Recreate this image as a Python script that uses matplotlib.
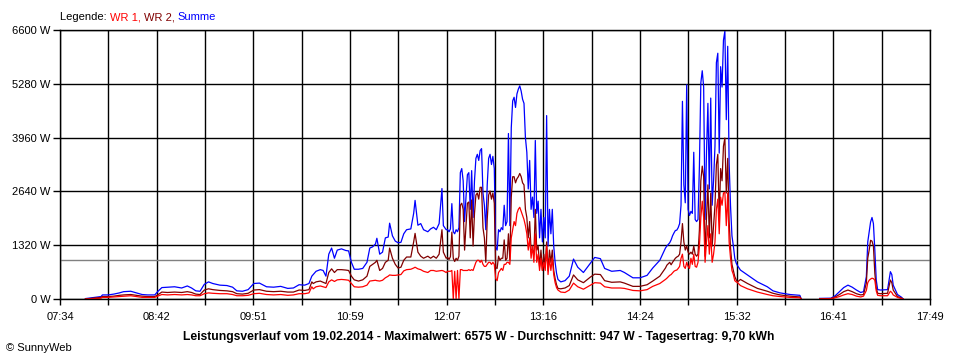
import numpy as np
import matplotlib
matplotlib.use("Agg")
import matplotlib.pyplot as plt

plt.rcParams["font.family"] = ["Liberation Sans", "DejaVu Sans"]

# ---------------------------------------------------
# DATA (W per minute sample)
# ---------------------------------------------------

times = [
    "07:52", "08:03", "08:04", "08:08", "08:12", "08:16", "08:19", "08:24", "08:28", "08:32",
    "08:36", "08:41", "08:43", "08:46", "08:50", "08:55", "09:00", "09:04", "09:07", "09:10",
    "09:13", "09:16", "09:19", "09:22", "09:27", "09:32", "09:36", "09:39", "09:43", "09:47",
    "09:51", "09:55", "10:00", "10:05", "10:10", "10:15", "10:19", "10:23", "10:27", "10:30",
    "10:32", "10:33", "10:35", "10:38", "10:40", "10:42", "10:44", "10:46", "10:48", "10:50",
    "10:53", "10:56", "10:58", "11:00", "11:02", "11:05", "11:08", "11:11", "11:13", "11:15",
    "11:17", "11:18", "11:20", "11:22", "11:24", "11:26", "11:27", "11:29", "11:31", "11:33",
    "11:35", "11:37", "11:39", "11:42", "11:44", "11:45", "11:47", "11:49", "11:51", "11:54",
    "11:56", "11:58", "12:00", "12:02", "12:04", "12:05", "12:07",
    "12:08", "12:09", "12:10", "12:11", "12:12", "12:13", "12:14", "12:15", "12:16", "12:17",
    "12:18", "12:19", "12:20", "12:21", "12:22", "12:23", "12:24", "12:25", "12:26", "12:27",
    "12:28", "12:29", "12:30", "12:31", "12:32", "12:33", "12:34", "12:35", "12:36", "12:37",
    "12:38", "12:39", "12:40", "12:41", "12:42", "12:43", "12:44", "12:45", "12:46", "12:47",
    "12:48", "12:49", "12:50", "12:51", "12:52", "12:53", "12:54", "12:55", "12:56", "12:57",
    "12:58", "12:59", "13:00", "13:01", "13:02", "13:03", "13:04", "13:05", "13:06", "13:07",
    "13:08", "13:09", "13:10", "13:11", "13:12", "13:13", "13:14", "13:15", "13:16", "13:17",
    "13:18", "13:19", "13:20", "13:21", "13:22", "13:23", "13:24", "13:25", "13:26", "13:28",
    "13:31", "13:34", "13:37", "13:40", "13:44", "13:49", "13:52", "13:56", "13:59", "14:04",
    "14:10", "14:13", "14:19", "14:24", "14:29", "14:33", "14:38", "14:42", "14:43",
    "14:45", "14:46", "14:47", "14:48", "14:49", "14:50", "14:51", "14:52", "14:53", "14:54",
    "14:55", "14:56", "14:57", "14:58", "14:59", "15:00", "15:01", "15:02", "15:03", "15:04",
    "15:05", "15:06", "15:07", "15:08", "15:09", "15:10", "15:11", "15:12", "15:13", "15:14",
    "15:15", "15:16", "15:17", "15:18", "15:19", "15:20", "15:21", "15:22", "15:23", "15:24",
    "15:25", "15:26", "15:27", "15:28", "15:29", "15:30", "15:31", "15:32", "15:33",
    "15:35", "15:40", "15:47", "15:54", "15:58", "16:03", "16:10", "16:17", "16:18", "16:19",
    "16:31", "16:39", "16:42", "16:45", "16:48", "16:51", "16:54", "16:57", "17:00", "17:02",
    "17:04", "17:05", "17:06", "17:07", "17:08", "17:09", "17:10", "17:11", "17:12", "17:14",
    "17:19", "17:21", "17:22", "17:23", "17:26", "17:29", "17:30",
]

summe = [
    10, 60, 100, 100, 120, 150, 180, 190, 150, 110,
    100, 100, 180, 280, 290, 300, 270, 320, 270, 200,
    190, 360, 420, 380, 340, 330, 290, 200, 190, 230,
    380, 390, 300, 290, 310, 260, 270, 350, 340, 380,
    560, 600, 680, 720, 700, 560, 1100, 1250, 1000, 1200,
    1230, 1190, 1180, 900, 730, 730, 750, 900, 1250, 1280,
    1350, 1490, 1100, 1150, 1500, 1520, 1860, 1550, 1420, 1380,
    1390, 1600, 1700, 1720, 2100, 2420, 1810, 1850, 1700, 1650,
    1720, 1760, 1700, 1850, 2710, 1800, 1700,
    1700, 1650, 1720, 2340, 1650, 1600, 1700, 1650, 1750, 3100,
    3200, 2900, 1900, 2500, 3050, 3100, 2200, 3150, 2000, 2900,
    3450, 3550, 3400, 3640, 3690, 2600, 2300, 1700, 2800, 3450,
    3550, 3300, 3500, 3200, 1270, 1200, 1700, 1650, 1750, 1700,
    2300, 1800, 1900, 4060, 1800, 4200, 4860, 4950, 4700, 5030,
    5150, 5230, 5100, 4900, 4800, 3960, 3600, 2700, 3400, 2200,
    2500, 2000, 3890, 2100, 2400, 1500, 2200, 1400, 2000, 1500,
    4500, 1300, 2200, 1600, 2200, 1300, 900, 630, 480, 420,
    450, 560, 980, 780, 650, 880, 1020, 990, 750, 680,
    700, 650, 520, 520, 580, 760, 950, 1250, 1300,
    1380, 1450, 1550, 1620, 1680, 1690, 1750, 1850, 2300, 4850,
    2800, 2360, 5255, 2200, 2050, 2150, 2100, 3600, 1950, 1900,
    1950, 3260, 5300, 5600, 5200, 1950, 3600, 4800, 2700, 4930,
    2300, 2900, 3750, 5800, 6030, 3580, 5700, 5200, 6350, 6575,
    4400, 6200, 3340, 2280, 1550, 1300, 1000, 880, 815,
    710, 590, 420, 300, 200, 150, 110, 90, 0, np.nan,
    15, 20, 80, 180, 280, 340, 290, 220, 160, 180,
    550, 1400, 1650, 1890, 2000, 1850, 1200, 465, 230, 220,
    230, 670, 600, 340, 110, 40, 0,
]

wr1 = [
    0, 20, 40, 40, 50, 60, 70, 80, 60, 40,
    40, 40, 70, 110, 100, 110, 100, 110, 100, 80,
    80, 130, 150, 140, 130, 130, 110, 80, 80, 90,
    130, 140, 110, 100, 110, 90, 100, 130, 130, 150,
    300, 250, 300, 320, 300, 280, 420, 470, 430, 470,
    480, 470, 460, 380, 300, 290, 300, 340, 440, 450,
    460, 450, 440, 460, 520, 560, 590, 580, 580, 590,
    600, 690, 720, 730, 760, 780, 740, 720, 680, 650,
    700, 700, 680, 690, 700, 690, 650,
    680, 680, 680, 700, 0, 680, 0, 700, 0, 720,
    720, 700, 700, 700, 700, 720, 700, 720, 700, 800,
    900, 950, 950, 900, 950, 850, 800, 800, 850, 900,
    900, 850, 900, 850, 500, 450, 650, 700, 750, 700,
    850, 850, 900, 900, 850, 1500, 1700, 1900, 1800, 2100,
    2200, 2250, 2150, 2050, 1950, 1800, 1600, 1200, 1500, 1000,
    1300, 900, 1600, 900, 1100, 700, 1000, 700, 900, 700,
    1300, 600, 1000, 700, 1000, 600, 400, 280, 220, 170,
    160, 220, 390, 300, 240, 340, 400, 390, 300, 270,
    270, 260, 210, 200, 230, 310, 380, 480, 510,
    580, 600, 640, 680, 700, 710, 750, 800, 1000, 1100,
    800, 750, 900, 800, 750, 1000, 850, 1100, 800, 780,
    900, 1300, 2000, 2400, 2000, 900, 1400, 1800, 1100, 1600,
    900, 1100, 1400, 2200, 2450, 1600, 2500, 2300, 2600, 2620,
    1800, 2600, 1400, 1000, 700, 600, 450, 420, 400,
    330, 250, 170, 110, 80, 60, 40, 30, 0, np.nan,
    5, 10, 30, 60, 100, 130, 110, 70, 50, 70,
    210, 400, 460, 490, 510, 500, 460, 200, 90, 80,
    80, 190, 160, 100, 40, 10, 0,
]

wr2 = [
    0, 40, 60, 60, 70, 90, 100, 110, 90, 70,
    60, 60, 100, 170, 160, 170, 160, 180, 160, 120,
    110, 220, 250, 230, 210, 200, 180, 130, 120, 140,
    220, 230, 190, 180, 190, 170, 170, 220, 210, 230,
    420, 380, 420, 440, 410, 380, 650, 740, 650, 720,
    720, 710, 700, 560, 470, 440, 470, 560, 800, 850,
    900, 950, 700, 750, 900, 950, 1250, 1000, 850, 760,
    780, 950, 1030, 1030, 1400, 1610, 1150, 1050, 1000, 1050,
    1000, 1050, 1000, 1100, 1700, 1150, 1000,
    1020, 970, 1040, 1640, 1000, 920, 1000, 950, 1050, 2300,
    2350, 2200, 1200, 1800, 2350, 2380, 1500, 2430, 1300, 2100,
    2550, 2600, 2450, 2740, 2740, 1750, 1500, 900, 1950, 2550,
    2650, 2450, 2600, 2350, 770, 750, 1050, 950, 1000, 1000,
    1450, 950, 1000, 1600, 950, 2500, 3000, 3000, 2850, 2950,
    3000, 3080, 3000, 2850, 2800, 2200, 2000, 1500, 1900, 1200,
    1200, 1100, 2200, 1200, 1300, 800, 1200, 700, 1100, 800,
    1400, 700, 1200, 900, 1200, 700, 500, 350, 260, 250,
    270, 330, 590, 470, 400, 540, 610, 600, 450, 410,
    420, 390, 310, 310, 350, 440, 560, 760, 830,
    900, 840, 900, 950, 1000, 1030, 1050, 1100, 1400, 1850,
    1400, 1200, 1300, 1150, 1100, 1150, 1100, 1300, 1100, 1050,
    1100, 1700, 2900, 3260, 3000, 1050, 2000, 2800, 1500, 2600,
    1300, 1800, 2300, 3300, 3550, 2000, 3200, 2900, 3750, 3950,
    2600, 3450, 1900, 1250, 850, 700, 550, 470, 420,
    480, 380, 260, 190, 140, 100, 70, 50, 0, np.nan,
    5, 10, 50, 110, 180, 220, 180, 130, 100, 110,
    390, 1000, 1200, 1440, 1420, 1300, 630, 270, 140, 130,
    140, 465, 400, 220, 60, 20, 0,
]

average_w = 947
y_ticks = [0, 1320, 2640, 3960, 5280, 6600]
x_labels = ["07:34", "08:42", "09:51", "10:59", "12:07",
            "13:16", "14:24", "15:32", "16:41", "17:49"]

title = ("Leistungsverlauf vom 19.02.2014 - Maximalwert: 6575 W - "
         "Durchschnitt: 947 W - Tagesertrag: 9,70 kWh")


def to_minutes(s):
    h, m = s.split(":")
    return int(h) * 60 + int(m)


t = np.array([to_minutes(s) for s in times], dtype=float)
x_start = to_minutes(x_labels[0])
x_end = to_minutes(x_labels[-1])

# ---------------------------------------------------
# PLOTTING
# ---------------------------------------------------

fig = plt.figure(figsize=(9.6, 3.6), dpi=100)
ax = fig.add_axes([60 / 960, 1 - 299 / 360, 870 / 960, 269 / 360])

ax.axhline(average_w, color="#808080", lw=1.0, zorder=2)

ax.plot(t, summe, color="#0000FF", lw=0.9, zorder=3)
ax.plot(t, wr2, color="#800000", lw=0.9, zorder=4)
ax.plot(t, wr1, color="#FF0000", lw=0.9, zorder=5)

ax.set_xlim(x_start, x_end)
ax.set_ylim(0, 6600)

ax.set_xticks(np.linspace(x_start, x_end, len(x_labels)))
ax.set_xticklabels(x_labels)
ax.set_xticks(np.linspace(x_start, x_end, 2 * len(x_labels) - 1), minor=True)
ax.set_yticks(y_ticks)
ax.set_yticklabels([f"{v} W" for v in y_ticks])

ax.tick_params(axis="x", which="both", direction="out", length=4,
               width=1, color="black", labelsize=8, pad=5)
ax.tick_params(axis="y", direction="out", length=5, width=1,
               color="black", labelsize=8, pad=2)

ax.grid(which="both", color="black", lw=1.0, zorder=1)
ax.set_axisbelow(True)
for side in ax.spines.values():
    side.set_color("black")
    side.set_linewidth(1.0)
    side.set_zorder(6)

# Legend line: "Legende: WR 1, WR 2, Summe" with coloured parts
fig.canvas.draw()
renderer = fig.canvas.get_renderer()
x_pos = 60 / 960
y_pos = 1 - 17 / 360
for txt, col in [("Legende: ", "black"), ("WR 1, ", "#FF0000"),
                 ("WR 2, ", "#800000"), ("Summe", "#0000FF")]:
    tt = fig.text(x_pos, y_pos, txt, color=col, fontsize=8, va="center", ha="left")
    bb = tt.get_window_extent(renderer)
    x_pos += bb.width / fig.bbox.width

fig.text(479 / 960, 1 - 337 / 360, title, fontsize=8.7, fontweight="bold",
         ha="center", va="center")
fig.text(6 / 960, 1 - 348 / 360, "\u00a9 SunnyWeb", fontsize=8,
         ha="left", va="center")

fig.savefig("out.png", dpi=100)
plt.close(fig)
